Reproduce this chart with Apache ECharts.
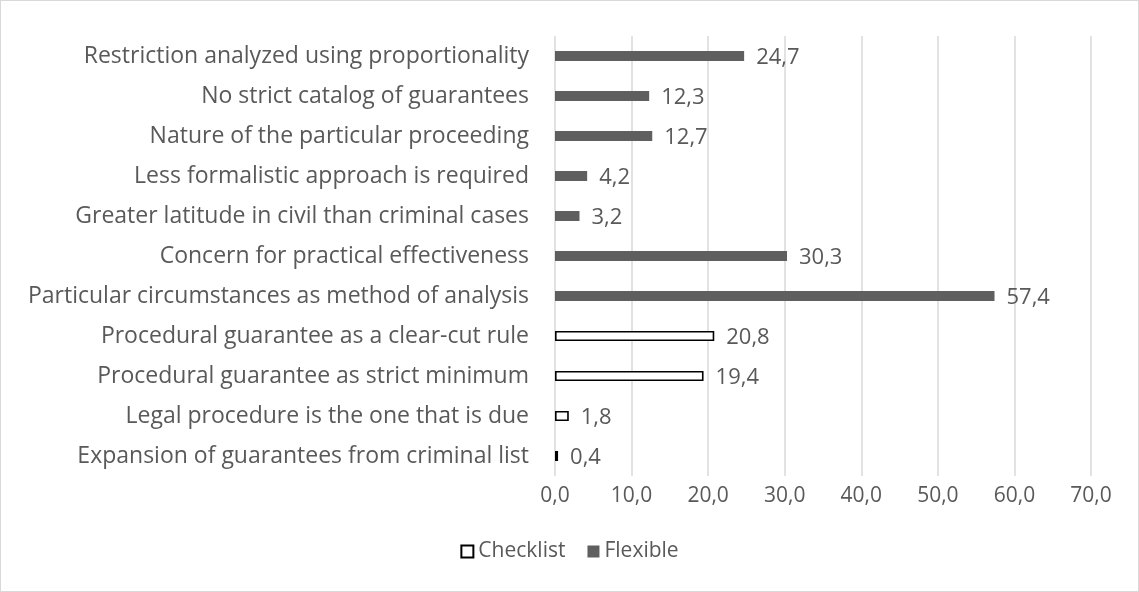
<!DOCTYPE html>
<html>
<head>
<meta charset="utf-8">
<script src="https://cdn.jsdelivr.net/npm/echarts@6/dist/echarts.min.js"></script>
<style>
  html, body { margin: 0; padding: 0; background: #fff; }
  #chart { width: 1139px; height: 592px; box-sizing: border-box; border: 1px solid #d9d9d9; }
</style>
</head>
<body>
<div id="chart"></div>
<script>
// Categories, bottom to top
const categories = [
  'Expansion of guarantees from criminal list',
  'Legal procedure is the one that is due',
  'Procedural guarantee as strict minimum',
  'Procedural guarantee as a clear-cut rule',
  'Particular circumstances as method of analysis',
  'Concern for practical effectiveness',
  'Greater latitude in civil than criminal cases',
  'Less formalistic approach is required',
  'Nature of the particular proceeding',
  'No strict catalog of guarantees',
  'Restriction analyzed using proportionality'
];
const checklist = [0.4, 1.8, 19.4, 20.8, '-', '-', '-', '-', '-', '-', '-'];
const flexible = ['-', '-', '-', '-', 57.4, 30.3, 3.2, 4.2, 12.7, 12.3, 24.7];
const xTicks = [0, 10, 20, 30, 40, 50, 60, 70];

const fmt = v => Number(v).toFixed(1).replace('.', ',');
const font = 'Open Sans';
const textColor = '#595959';

const chart = echarts.init(document.getElementById('chart'), null, { renderer: 'canvas' });
chart.setOption({
  animation: false,
  textStyle: { fontFamily: font },
  grid: { left: 554, right: 47, top: 35, bottom: 115, containLabel: false },
  legend: {
    bottom: 24,
    left: 'center',
    icon: 'rect',
    itemWidth: 12,
    itemHeight: 12,
    itemGap: 22,
    textStyle: { color: textColor, fontSize: 21, fontFamily: font },
    data: ['Checklist', 'Flexible']
  },
  xAxis: {
    type: 'value',
    min: xTicks[0],
    max: xTicks[xTicks.length - 1],
    interval: 10,
    axisLine: { show: false },
    axisTick: { show: false },
    splitLine: { lineStyle: { color: '#d9d9d9', width: 1.5 } },
    axisLabel: { color: textColor, fontSize: 21, margin: 10, formatter: fmt }
  },
  yAxis: {
    type: 'category',
    data: categories,
    axisLine: { show: false },
    axisTick: { show: false },
    axisLabel: { color: textColor, fontSize: 23, margin: 26 }
  },
  series: [
    {
      name: 'Checklist',
      type: 'bar',
      stack: 'all',
      data: checklist,
      barWidth: 10,
      itemStyle: { color: '#ffffff', borderColor: '#000000', borderWidth: 1.6 },
      label: { show: true, position: 'right', distance: 12, offset: [0, 2], color: textColor, fontSize: 22, formatter: p => fmt(p.value) }
    },
    {
      name: 'Flexible',
      type: 'bar',
      stack: 'all',
      data: flexible,
      barWidth: 11,
      itemStyle: { color: '#5f5f5f' },
      label: { show: true, position: 'right', distance: 12, offset: [0, 2], color: textColor, fontSize: 22, formatter: p => fmt(p.value) }
    }
  ]
});
</script>
</body>
</html>
